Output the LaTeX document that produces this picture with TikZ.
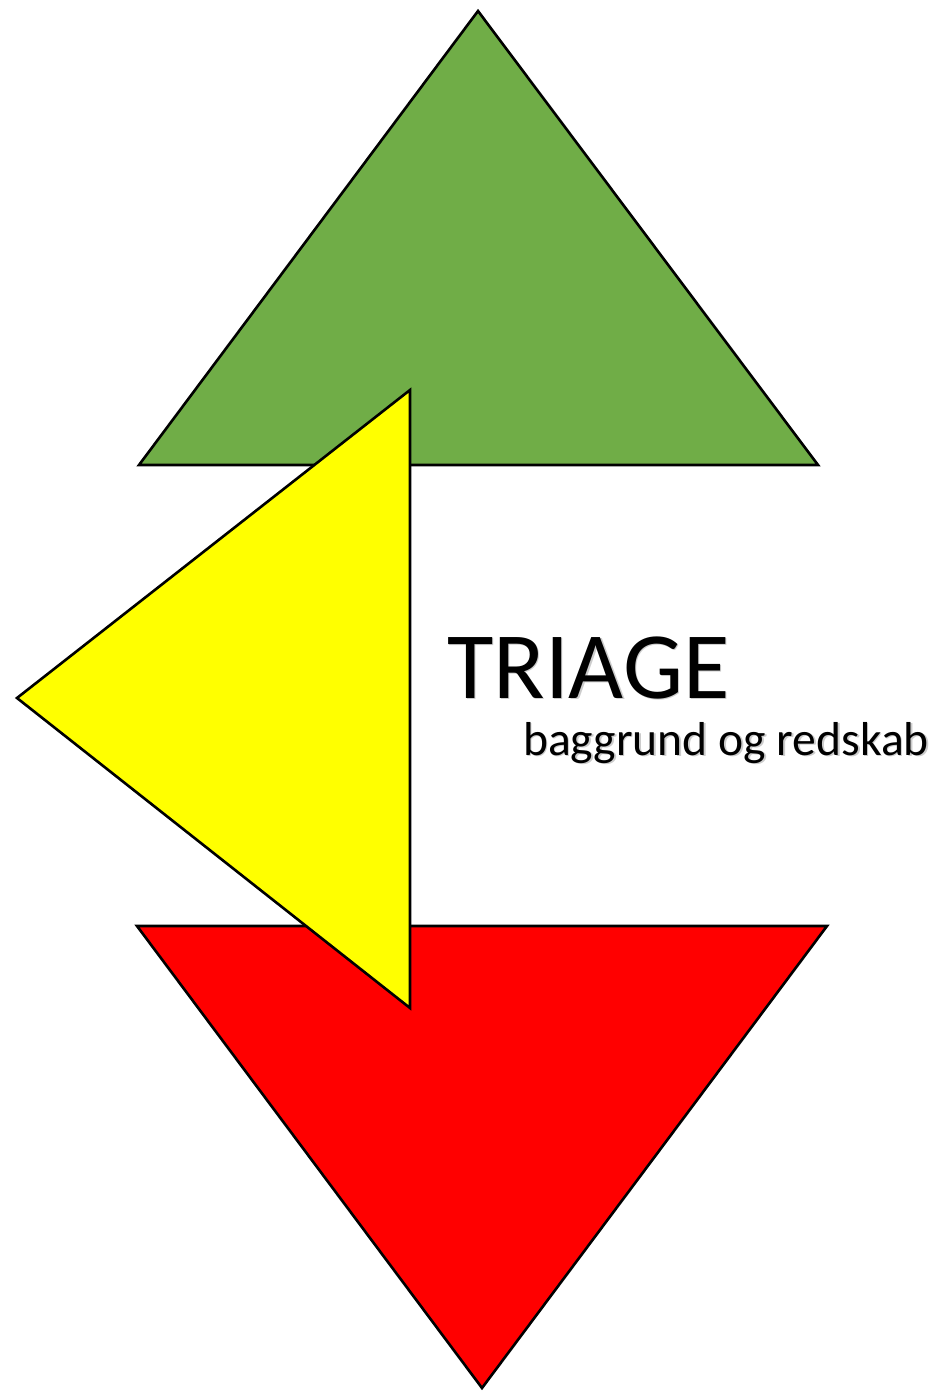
\documentclass[tikz,border=0pt]{standalone}
\usepackage{fontspec}
\setmainfont{Carlito}
\definecolor{tgreen}{RGB}{112,173,71}
\definecolor{tyellow}{RGB}{255,255,0}
\definecolor{tred}{RGB}{255,0,0}
\definecolor{tshadow}{RGB}{170,170,170}
\begin{document}
\begin{tikzpicture}[x=1pt,y=-1pt,
  tri/.style={draw=black,line width=2.6pt,line join=miter},
  title/.style={inner sep=0pt,anchor=base west,font=\fontsize{95}{95}\selectfont},
  sub/.style={inner sep=0pt,anchor=base west,font=\fontsize{47.6}{47.6}\selectfont}]
\useasboundingbox (0,0) rectangle (937,1391);
% green
\filldraw[tri,fill=tgreen] (478,11) -- (818,465) -- (139,465) -- cycle;
% red
\filldraw[tri,fill=tred] (137,926) -- (827,926) -- (482,1388) -- cycle;
% yellow
\filldraw[tri,fill=tyellow] (410,390) -- (410,1008) -- (17,698) -- cycle;
% text shadow
\node[title,text=tshadow,opacity=0.6] at (448.5,699.5) {TRIAGE};
\node[sub,text=tshadow,opacity=0.6] at (524.5,756.5) {baggrund og redskab};
\node[title] (t1) at (447,698) {TRIAGE};
\node[sub] (t2) at (523,755) {baggrund og redskab};
\end{tikzpicture}
\end{document}
